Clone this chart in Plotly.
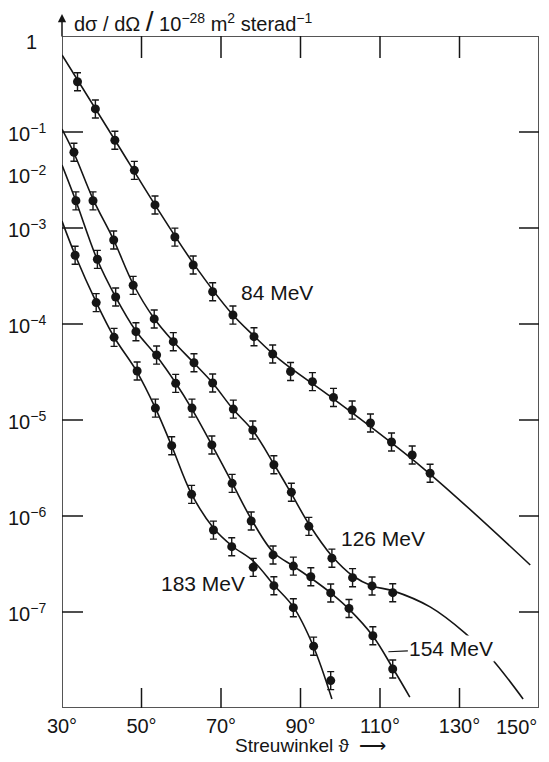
import math
import plotly.graph_objects as go

# ---------------- data ----------------
# scattering angle in degrees, cross-section in 10^-28 m^2/sterad
angles_84 = [33.9, 38.4, 43.3, 48.2, 53.4, 58.4, 63.0, 67.9, 73.0, 78.3, 83.0,
             87.5, 93.0, 98.3, 103.0, 107.6, 112.9, 118.1, 122.6]
sigma_84 = [3.34e-2, 1.74e-2, 8.2e-3, 3.99e-3, 1.74e-3, 8.05e-4, 4.12e-4, 2.17e-4,
            1.24e-4, 7.38e-5, 4.87e-5, 3.20e-5, 2.51e-5, 1.72e-5, 1.27e-5, 9.31e-6,
            5.90e-6, 4.32e-6, 2.79e-6]
curve_angles_84 = [30.0, 43.3, 53.4, 63.0, 72.8, 78.3, 84.85, 98.3, 120.8, 147.8]
curve_sigma_84 = [6.34e-2, 8.26e-3, 1.74e-3, 4.31e-4, 1.27e-4, 7.50e-5, 4.22e-5,
                  1.66e-5, 3.16e-6, 3.09e-7]

angles_126 = [33.0, 37.8, 43.0, 47.9, 53.2, 58.0, 63.2, 67.9, 73.1, 78.0, 83.3,
              87.7, 92.1, 97.9, 103.1, 108.0, 113.2]
sigma_126 = [6.15e-3, 1.92e-3, 7.50e-4, 2.53e-4, 1.13e-4, 6.55e-5, 3.95e-5, 2.43e-5,
             1.30e-5, 7.87e-6, 3.42e-6, 1.77e-6, 7.80e-7, 3.64e-7, 2.28e-7, 1.87e-7,
             1.59e-7]
curve_angles_126 = [30.0, 33.0, 37.8, 43.0, 47.9, 53.1, 57.9, 63.2, 67.9, 73.0, 78.1,
                    83.3, 87.6, 92.1, 97.9, 103.2, 108.0, 113.3, 122.6, 131.4, 137.7, 146.0]
curve_sigma_126 = [1.074e-2, 6.04e-3, 2.00e-3, 7.50e-4, 2.61e-4, 1.155e-4, 6.65e-5,
                   3.92e-5, 2.43e-5, 1.30e-5, 7.67e-6, 3.48e-6, 1.74e-6, 8.26e-7,
                   3.83e-7, 2.37e-7, 1.87e-7, 1.66e-7, 1.13e-7, 6.04e-8, 3.40e-8, 1.24e-8]

angles_154 = [33.5, 38.9, 43.5, 48.6, 53.8, 58.6, 62.7, 67.7, 72.8, 77.6, 83.1,
              88.2, 92.6, 97.6, 102.2, 108.2, 113.2]
sigma_154 = [1.92e-3, 4.72e-4, 1.91e-4, 8.32e-5, 4.75e-5, 2.41e-5, 1.33e-5, 5.50e-6,
             2.19e-6, 8.87e-7, 3.93e-7, 3.01e-7, 2.33e-7, 1.58e-7, 1.09e-7, 5.66e-8,
             2.55e-8]
curve_angles_154 = [30.0, 33.5, 38.8, 43.5, 48.6, 53.8, 58.6, 62.7, 67.7, 72.8, 77.6,
                    83.1, 88.2, 92.6, 97.6, 102.2, 108.2, 113.2, 117.5]
curve_sigma_154 = [4.53e-3, 1.91e-3, 4.75e-4, 1.91e-4, 8.45e-5, 4.64e-5, 2.43e-5,
                   1.30e-5, 5.50e-6, 2.21e-6, 9.31e-7, 4.22e-7, 3.01e-7, 2.26e-7,
                   1.58e-7, 1.07e-7, 5.62e-8, 2.61e-8, 1.30e-8]

angles_183 = [33.3, 38.6, 43.1, 48.9, 53.5, 57.6, 62.6, 68.1, 72.7, 78.1, 83.3,
              88.2, 93.3, 97.6]
sigma_183 = [5.20e-4, 1.67e-4, 7.26e-5, 3.24e-5, 1.33e-5, 5.40e-6, 1.68e-6, 7.14e-7,
             4.79e-7, 2.92e-7, 1.88e-7, 1.11e-7, 4.41e-8, 1.93e-8]
curve_angles_183 = [30.0, 33.3, 38.6, 43.1, 48.9, 53.5, 57.6, 62.6, 68.1, 72.8, 78.1,
                    83.3, 88.2, 93.2, 97.9]
curve_sigma_183 = [1.18e-3, 5.24e-4, 1.69e-4, 7.32e-5, 3.16e-5, 1.33e-5, 5.36e-6,
                   1.69e-6, 7.50e-7, 4.87e-7, 3.40e-7, 1.91e-7, 1.13e-7, 4.43e-8, 1.24e-8]

# relative error bars (constant in log space)
err_plus_pct = 24
err_minus_pct = 19.5

# axes
x_range = [30, 150]
y_log_range = [-8, -1]
x_tick_vals = [30, 50, 70, 90, 110, 130]
x_tick_text = ["30°", "50°", "70°", "90°", "110°", "130°"]
x_tick_marks = [50, 70, 90, 110, 130]
y_tick_marks = [1e-2, 1e-3, 1e-4, 1e-5, 1e-6, 1e-7]
y_label_vals = [1e-1, 1e-2, 3.65e-3, 1e-3, 1e-4, 1e-5, 1e-6, 1e-7]
y_label_text = ["1", "10<sup>−1</sup>", "10<sup>−2</sup>", "10<sup>−3</sup>",
                "10<sup>−4</sup>", "10<sup>−5</sup>", "10<sup>−6</sup>", "10<sup>−7</sup>"]
y_label_xshift = [-23, -14, -14, -14, -14, -14, -14, -14]
y_label_yshift = [-6, 0, 0, 0, 0, 0, 0, 0]

series = [
    ("84 MeV", angles_84, sigma_84, curve_angles_84, curve_sigma_84),
    ("126 MeV", angles_126, sigma_126, curve_angles_126, curve_sigma_126),
    ("154 MeV", angles_154, sigma_154, curve_angles_154, curve_sigma_154),
    ("183 MeV", angles_183, sigma_183, curve_angles_183, curve_sigma_183),
]

INK = "#151515"
FRAME = "#555555"
FONT = "Liberation Sans, Arial, sans-serif"

W, H = 549, 762
M = dict(l=62, r=10, t=36, b=54)
plot_w = W - M["l"] - M["r"]
plot_h = H - M["t"] - M["b"]
deg_per_px = (x_range[1] - x_range[0]) / plot_w
dec_per_px = (y_log_range[1] - y_log_range[0]) / plot_h
TICK_X_BOTTOM, TICK_X_TOP, TICK_Y_LEFT, TICK_Y_RIGHT = 20, 22, 21, 20

fig = go.Figure()

# frame (drawn as a trace so it is always rendered)
lo, hi = 10 ** y_log_range[0], 10 ** y_log_range[1]
fig.add_trace(go.Scatter(
    x=[x_range[0], x_range[1], x_range[1], x_range[0], x_range[0]],
    y=[lo, lo, hi, hi, lo], mode="lines", cliponaxis=False,
    line=dict(color=FRAME, width=2), showlegend=False, hoverinfo="skip"))

# tick marks (inside, on all four sides)
tx, ty = [], []
for v in x_tick_marks:
    tx += [v, v, None, v, v, None]
    ty += [lo, 10 ** (y_log_range[0] + TICK_X_BOTTOM * dec_per_px), None,
           hi, 10 ** (y_log_range[1] - TICK_X_TOP * dec_per_px), None]
for v in y_tick_marks:
    tx += [x_range[0], x_range[0] + TICK_Y_LEFT * deg_per_px, None,
           x_range[1], x_range[1] - TICK_Y_RIGHT * deg_per_px, None]
    ty += [v, v, None, v, v, None]
fig.add_trace(go.Scatter(x=tx, y=ty, mode="lines", cliponaxis=False,
                         line=dict(color=INK, width=1.5), showlegend=False,
                         hoverinfo="skip", connectgaps=False))

for name, ax_, sy, cx, cy in series:
    fig.add_trace(go.Scatter(
        x=cx, y=cy, mode="lines", name=name,
        line=dict(color=INK, width=1.6, shape="spline", smoothing=1.0),
        showlegend=False, hoverinfo="skip"))
    fig.add_trace(go.Scatter(
        x=ax_, y=sy, mode="markers", name=name,
        marker=dict(color=INK, size=9),
        error_y=dict(type="percent", symmetric=False, value=err_plus_pct,
                     valueminus=err_minus_pct, color=INK, thickness=1.4, width=3.5),
        showlegend=False))

fig.update_layout(
    width=W, height=H, autosize=False,
    margin=M,
    paper_bgcolor="white", plot_bgcolor="white",
    font=dict(family=FONT, size=20, color=INK),
    xaxis=dict(range=x_range, tickvals=x_tick_vals, ticktext=x_tick_text,
               ticks="", showline=False, showgrid=False, zeroline=False,
               tickfont=dict(size=20), automargin=False, ticklabelstandoff=4),
    yaxis=dict(type="log", range=y_log_range, showticklabels=False, ticks="",
               showline=False, showgrid=False, zeroline=False, automargin=False),
)

# y tick labels (annotation y on log axes is given as log10)
for val, txt, xs, ys in zip(y_label_vals, y_label_text, y_label_xshift, y_label_yshift):
    fig.add_annotation(x=0, xref="paper", y=math.log10(val), yref="y", text=txt,
                       showarrow=False, xanchor="right", yanchor="middle",
                       xshift=xs, yshift=ys, font=dict(family=FONT, size=20, color=INK))

ann_font = dict(family=FONT, size=21, color=INK)
# curve labels
fig.add_annotation(x=84.1, y=-3.667, text="84 MeV", showarrow=False, font=ann_font)
fig.add_annotation(x=110.8, y=-6.232, text="126 MeV", showarrow=False, font=ann_font)
fig.add_annotation(x=65.35, y=-6.708, text="183 MeV", showarrow=False, font=ann_font)
fig.add_annotation(x=112.1, y=-7.414, text="154 MeV", showarrow=True, arrowhead=0,
                   arrowwidth=1.2, arrowcolor=INK, ax=63, ay=-3,
                   bgcolor="white", borderpad=1, font=ann_font)

# 150° label at the corner
fig.add_annotation(x=150, y=0, yref="paper", text="150°", showarrow=False,
                   xanchor="right", yanchor="top", yshift=-6,
                   font=dict(family=FONT, size=20, color=INK))

# y-axis arrow and title
fig.add_annotation(x=0, y=1.0327, xref="paper", yref="paper", text="",
                   showarrow=True, arrowhead=2, arrowsize=1.1, arrowwidth=1.5,
                   arrowcolor=INK, ax=0, ay=24)
fig.add_annotation(x=0.021, y=1.0223, xref="paper", yref="paper", xanchor="left",
                   yanchor="middle", showarrow=False,
                   text="dσ / dΩ <span style='font-size:28px'>/</span> 10<sup>−28</sup> m<sup>2</sup> sterad<sup>−1</sup>",
                   font=dict(family=FONT, size=20, color=INK))

# x-axis title
fig.add_annotation(x=0.522, y=-0.0565, xref="paper", yref="paper", showarrow=False,
                   xanchor="center", yanchor="middle",
                   text="Streuwinkel ϑ  ⟶", font=dict(family=FONT, size=19, color=INK))

fig.write_html("out.html", config={"displayModeBar": False},
               post_script="document.body.style.margin='0';")
